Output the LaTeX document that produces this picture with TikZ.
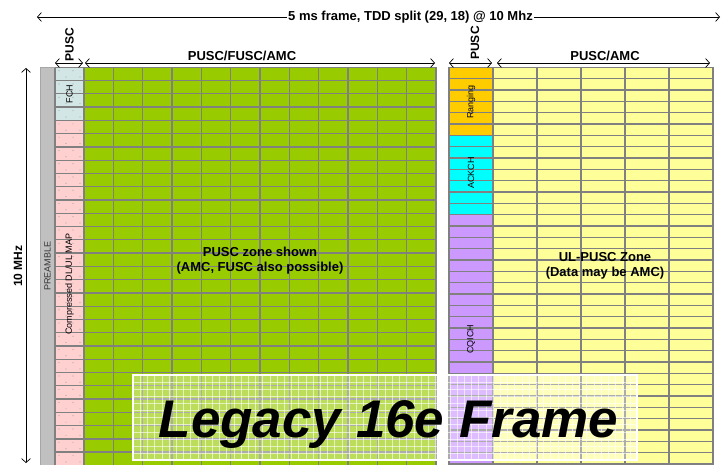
\documentclass[tikz,border=0pt]{standalone}
\usepackage{fontspec}
\setmainfont{Liberation Sans}
\usetikzlibrary{arrows.meta}
\definecolor{dlgreen}{HTML}{99CC00}
\definecolor{ulyellow}{HTML}{FFFF99}
\definecolor{rangeorange}{HTML}{FFCC00}
\definecolor{ackcyan}{HTML}{00FFFF}
\definecolor{cqipurple}{HTML}{CC99FF}
\definecolor{mappink}{HTML}{FFD0D0}
\definecolor{fchblue}{HTML}{D2E6E6}
\definecolor{preamblegray}{HTML}{C0C0C0}
\definecolor{cellline}{HTML}{808080}

\begin{document}
\begin{tikzpicture}[x=1pt,y=-1pt,>={Straight Barb[length=4pt,width=9pt]},
  cell/.style={draw=cellline,line width=1.3pt},
  lbl/.style={font=\bfseries\fontsize{13}{15}\selectfont,align=center,inner sep=1pt},
  vlbl/.style={font=\fontsize{9}{10}\selectfont,rotate=90,inner sep=1pt},
  dimline/.style={<->,line width=0.7pt}]
\useasboundingbox (0,0) rectangle (722,465);
\begin{scope}
\clip (0,0) rectangle (722,465);
\fill[preamblegray] (40,67.3) rectangle (55,470);
\fill[fchblue] (55,67.3) rectangle (84,120.4);
\fill[mappink] (55,120.4) rectangle (84,470);
\fill[dlgreen] (84,67.3) rectangle (436,470);
\foreach \r in {0,...,30}
  \foreach \dx/\dy in {4/3.5,18/3.5,11/9.8,25/9.8}
    \fill[gray!70] ({55+\dx},{67.3+\r*13.27+\dy}) circle (0.6);
\foreach \r in {0,...,30} \draw[cell] (55,{67.3+\r*13.27}) -- (436,{67.3+\r*13.27});
\foreach \c in {0,...,12} \draw[cell] ({84+\c*29.33},67.3) -- ({84+\c*29.33},470);
\draw[cell] (55,67.3) -- (55,470);
\draw[cellline!70,line width=1pt] (40,470) -- (40,67.3) -- (55,67.3);
\fill[rangeorange] (449,67.3) rectangle (493,135.3);
\fill[ackcyan] (449,135.3) rectangle (493,214.6);
\fill[cqipurple] (449,214.6) rectangle (493,470);
\fill[ulyellow] (493,67.3) rectangle (713,470);
\foreach \r in {0,...,36} \draw[cell] (449,{67.3+\r*11.33}) -- (713,{67.3+\r*11.33});
\foreach \c in {0,...,5} \draw[cell] ({493+\c*44},67.3) -- ({493+\c*44},470);
\draw[cell] (449,67.3) -- (449,470);
\end{scope}

\node[vlbl,text=black!80] (preamble) at (47.5,266) {PREAMBLE};
\node[vlbl] (fch) at (69.5,94) {FCH};
\node[vlbl] (dlmap) at (69.5,284) {Compressed DL/UL MAP};
\node[vlbl] (ranging) at (471,102) {Ranging};
\node[vlbl] (ackch) at (471,173) {ACKCH};
\node[vlbl] (cqich) at (471,339) {CQICH};
\node[lbl] (dlzone) at (260,261) {PUSC zone shown\\(AMC, FUSC also possible)};
\node[lbl] (ulzone) at (605,266) {UL-PUSC Zone\\(Data may be AMC)};

\begin{scope}
\fill[white,fill opacity=0.35] (133,375) rectangle (637,460);
\clip (133,375) rectangle (637,460);
\foreach \i in {0,...,70} \draw[white,line width=0.6pt,opacity=0.6] ({133+\i*7.2},375) -- ++(0,85);
\foreach \j in {0,...,12} \draw[white,line width=0.6pt,opacity=0.6] (133,{375+\j*7.1}) -- ++(504,0);
\end{scope}
\draw[white,line width=1.5pt] (133,375) rectangle (637,460);
\node[font=\bfseries\itshape\fontsize{53}{60}\selectfont,anchor=base,inner sep=0pt] (legacy) at (388.5,437) {Legacy 16e Frame};

\coordinate (frameL) at (37,17);
\coordinate (frameR) at (720,17);
\draw[dimline] (frameL) -- (frameR);
\node[lbl,fill=white,anchor=base] (frame) at (410.5,21) {5 ms frame, TDD split (29, 18) @ 10 Mhz};

\coordinate (bwT) at (26,68);
\coordinate (bwB) at (26,463);
\draw[dimline] (bwT) -- (bwB);
\node[lbl,rotate=90,fill=white,font=\bfseries\fontsize{12}{13}\selectfont] (bw) at (18,266) {10 MHz};

\coordinate (dlpuscL) at (55,63);
\coordinate (dlpuscR) at (83,63);
\coordinate (dldataL) at (85,63);
\coordinate (dldataR) at (435,63);
\draw[dimline] (dlpuscL) -- (dlpuscR);
\draw[dimline] (dldataL) -- (dldataR);
\node[lbl,rotate=90,font=\bfseries\fontsize{12}{13}\selectfont] (dlpusc) at (69.5,45) {PUSC};
\node[lbl,anchor=base] (dldata) at (242,60.5) {PUSC/FUSC/AMC};

\coordinate (ulpuscL) at (449,63);
\coordinate (ulpuscR) at (492,63);
\coordinate (uldataL) at (497,63);
\coordinate (uldataR) at (710,63);
\draw[dimline] (ulpuscL) -- (ulpuscR);
\draw[dimline] (uldataL) -- (uldataR);
\node[lbl,rotate=90,font=\bfseries\fontsize{12}{13}\selectfont] (ulpusc) at (475,43) {PUSC};
\node[lbl,anchor=base] (uldata) at (605,60.5) {PUSC/AMC};
\end{tikzpicture}
\end{document}
